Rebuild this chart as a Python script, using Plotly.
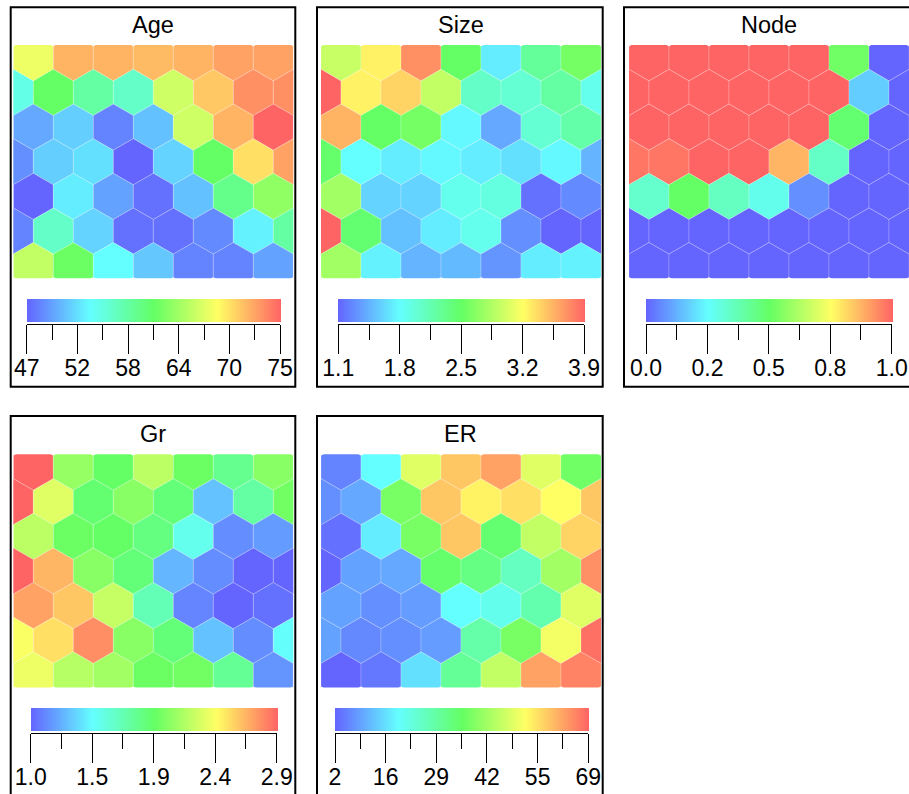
import numpy as np
import plotly.graph_objects as go

W, H = 909, 794
FONT = "Liberation Sans, Arial, Helvetica, sans-serif"

# ---------------- data (hex SOM codebook values, rows top -> bottom) ----------------
titles = ["Age", "Size", "Node", "Gr", "ER"]

age_rows = [
    [67.2, 71.4, 71.4, 71.1, 71.4, 72.2, 72.2],
    [55.1, 61.0, 58.2, 56.5, 65.8, 70.5, 73.0, 73.0],
    [50.1, 51.8, 48.4, 51.2, 65.8, 71.4, 75.0],
    [49.0, 51.8, 52.6, 47.0, 52.0, 61.0, 69.4, 72.2],
    [47.0, 53.2, 49.8, 47.6, 51.2, 59.3, 63.0],
    [48.4, 56.5, 52.0, 47.6, 47.6, 48.7, 53.4, 58.2],
    [65.2, 61.3, 54.0, 51.5, 48.4, 48.4, 49.8],
]
size_rows = [
    [2.95, 3.26, 3.70, 2.50, 1.72, 2.25, 2.58],
    [3.90, 3.26, 3.40, 2.92, 2.05, 2.00, 2.22, 1.88],
    [3.54, 2.50, 2.58, 1.77, 1.41, 2.00, 2.19],
    [2.47, 1.80, 1.72, 1.77, 1.72, 1.66, 1.77, 1.46],
    [2.78, 1.60, 1.60, 1.88, 1.94, 1.16, 1.27],
    [3.90, 2.44, 1.52, 1.72, 1.88, 1.30, 1.10, 1.10],
    [2.78, 1.74, 1.46, 1.49, 1.32, 1.72, 1.74],
]
node_rows = [
    [1.00, 1.00, 1.00, 1.00, 1.00, 0.52, 0.00],
    [1.00, 1.00, 1.00, 1.00, 1.00, 1.00, 0.17, 0.00],
    [1.00, 1.00, 1.00, 1.00, 1.00, 0.48, 0.00],
    [0.97, 0.97, 1.00, 1.00, 0.87, 0.34, 0.00, 0.00],
    [0.33, 0.50, 0.35, 0.28, 0.07, 0.00, 0.00],
    [0.00, 0.00, 0.00, 0.00, 0.00, 0.00, 0.00, 0.00],
    [0.00, 0.00, 0.00, 0.00, 0.00, 0.00, 0.00],
]
gr_rows = [
    [2.90, 2.10, 1.95, 2.22, 1.97, 1.82, 2.06],
    [2.90, 2.33, 1.91, 2.06, 1.89, 1.29, 1.76, 1.99],
    [2.22, 1.97, 1.95, 1.86, 1.53, 1.13, 1.17],
    [2.90, 2.65, 2.06, 1.89, 1.25, 1.13, 1.00, 1.00],
    [2.71, 2.60, 2.25, 1.70, 1.10, 1.00, 1.04],
    [2.41, 2.52, 2.77, 2.06, 1.89, 1.29, 1.13, 1.48],
    [2.37, 2.20, 2.14, 1.97, 1.99, 1.80, 1.15],
]
er_rows = [
    [5.4, 18.8, 48.9, 58.3, 62.3, 48.9, 36.8],
    [6.7, 9.4, 37.5, 58.3, 53.6, 55.6, 52.3, 58.3],
    [3.3, 16.7, 37.5, 58.3, 34.2, 45.6, 56.9],
    [2.0, 8.7, 9.4, 34.8, 32.2, 25.5, 42.2, 64.3],
    [8.7, 6.7, 8.0, 18.8, 20.8, 27.5, 48.9],
    [8.7, 6.0, 6.7, 8.0, 28.1, 37.5, 50.9, 67.7],
    [2.0, 4.0, 15.4, 30.1, 45.6, 62.3, 65.7],
]

age_range = [47, 75]
size_range = [1.1, 3.9]
node_range = [0.0, 1.0]
gr_range = [1.0, 2.9]
er_range = [2, 69]

age_ticks = ["47", "52", "58", "64", "70", "75"]
size_ticks = ["1.1", "1.8", "2.5", "3.2", "3.9"]
node_ticks = ["0.0", "0.2", "0.5", "0.8", "1.0"]
gr_ticks = ["1.0", "1.5", "1.9", "2.4", "2.9"]
er_ticks = ["2", "16", "29", "42", "55", "69"]

all_rows = [age_rows, size_rows, node_rows, gr_rows, er_rows]
all_ranges = [age_range, size_range, node_range, gr_range, er_range]
all_ticks = [age_ticks, size_ticks, node_ticks, gr_ticks, er_ticks]

colorscale = [[0.0, "#6464FF"], [0.25, "#64FFFF"], [0.5, "#64FF64"],
              [0.75, "#FFFF64"], [1.0, "#FF6464"]]

# ---------------- layout geometry (pixels) ----------------
# plot_x0, plot_y0, box_x0, box_x1, box_y0, box_y1, axis_x0, axis_x1
geom = [
    (13.3, 45.0, 10.7, 295.3, 7.3, 386.7, 26.7, 280.0),
    (321.0, 45.0, 317.0, 602.7, 7.3, 386.7, 338.3, 584.0),
    (629.0, 45.0, 624.0, 915.0, 7.3, 386.7, 646.0, 891.7),
    (13.3, 454.3, 10.7, 295.3, 416.0, 805.0, 30.7, 276.7),
    (321.0, 454.3, 317.0, 602.7, 416.0, 805.0, 335.0, 588.3),
]
UNIT = 40.0                     # px per hex width
PLOT_W, PLOT_H = 280.0, 233.3
ROW0 = 0.32                     # first row centre (hex-width units)
HEX_SIZE = 2 * UNIT / np.sqrt(3)


def hex_centers(rows):
    xs, ys, vs = [], [], []
    for r, row in enumerate(rows):
        shift = 0.5 if r % 2 == 0 else 0.0
        for c, v in enumerate(row):
            xs.append(c + shift)
            ys.append(ROW0 + r * np.sqrt(3) / 2)
            vs.append(v)
    return xs, ys, vs


def px2x(px):
    return px / W


def px2y(py):
    return 1 - py / H


fig = go.Figure()
layout = dict(
    width=W, height=H, margin=dict(l=0, r=0, t=0, b=0, pad=0, autoexpand=False),
    paper_bgcolor="white", plot_bgcolor="white", showlegend=False,
    font=dict(family=FONT, color="black"),
)
shapes, annotations = [], []

for i in range(5):
    k = i + 1
    px0, py0, bx0, bx1, by0, by1, ax0, ax1 = geom[i]
    vmin, vmax = all_ranges[i]
    xs, ys, vs = hex_centers(all_rows[i])
    bar_top = py0 + 254
    axis_y = py0 + 279

    fig.add_trace(go.Scatter(
        x=xs, y=ys, mode="markers", xaxis=f"x{k}", yaxis=f"y{k}",
        hoverinfo="skip", showlegend=False, cliponaxis=True,
        marker=dict(
            symbol="hexagon", size=HEX_SIZE, color=vs,
            colorscale=colorscale, cmin=vmin, cmax=vmax,
            line=dict(color="rgba(255,255,255,0.3)", width=0.7),
            showscale=True,
            colorbar=dict(
                orientation="h", x=px2x(ax0), xanchor="left",
                y=px2y(bar_top), yanchor="top",
                len=ax1 - ax0 + 1, lenmode="pixels",
                thickness=23, thicknessmode="pixels",
                xpad=0, ypad=0, outlinewidth=0, ticks="",
                showticklabels=False,
            ),
        ),
    ))
    layout[f"xaxis{k}"] = dict(
        domain=[px2x(px0), px2x(px0 + PLOT_W)], range=[0, PLOT_W / UNIT],
        visible=False, anchor=f"y{k}", fixedrange=True)
    layout[f"yaxis{k}"] = dict(
        domain=[px2y(py0 + PLOT_H), px2y(py0)], range=[PLOT_H / UNIT, 0],
        visible=False, anchor=f"x{k}", fixedrange=True)

    # tick scale under the colour bar
    j = k + 5
    labels = all_ticks[i]
    tv = np.linspace(vmin, vmax, len(labels))
    minor_tv = (tv[:-1] + tv[1:]) / 2
    fig.add_trace(go.Scatter(x=[], y=[], xaxis=f"x{j}", yaxis=f"y{j}",
                             showlegend=False, hoverinfo="skip"))
    layout[f"xaxis{j}"] = dict(
        domain=[px2x(ax0), px2x(ax1)], range=[vmin, vmax], anchor=f"y{j}",
        showline=True, linecolor="black", linewidth=1,
        ticks="outside", ticklen=29, tickwidth=1, tickcolor="black",
        tickmode="array", tickvals=list(tv), ticktext=labels,
        tickfont=dict(family=FONT, size=23, color="black"),
        ticklabelstandoff=-6, ticklabeloverflow="allow",
        minor=dict(tickmode="array", tickvals=list(minor_tv), ticks="outside",
                   ticklen=15, tickwidth=1, tickcolor="black", showgrid=False),
        showgrid=False, zeroline=False, fixedrange=True)
    layout[f"yaxis{j}"] = dict(
        domain=[px2y(axis_y), px2y(axis_y - 2)], range=[0, 1],
        visible=False, anchor=f"x{j}", fixedrange=True)

    shapes.append(dict(type="rect", xref="paper", yref="paper",
                       x0=px2x(bx0), x1=px2x(bx1), y0=px2y(by1), y1=px2y(by0),
                       line=dict(color="black", width=2), fillcolor="rgba(0,0,0,0)"))
    annotations.append(dict(
        text=titles[i], xref="paper", yref="paper",
        x=px2x(px0 + PLOT_W / 2), y=px2y(by0 + 18),
        xanchor="center", yanchor="middle", showarrow=False,
        font=dict(family=FONT, size=23.5, color="black")))

layout["shapes"] = shapes
layout["annotations"] = annotations
fig.update_layout(**layout)
fig.write_html("out.html", config={"displayModeBar": False},
               post_script="document.body.style.margin='0';document.body.style.overflow='hidden';")
